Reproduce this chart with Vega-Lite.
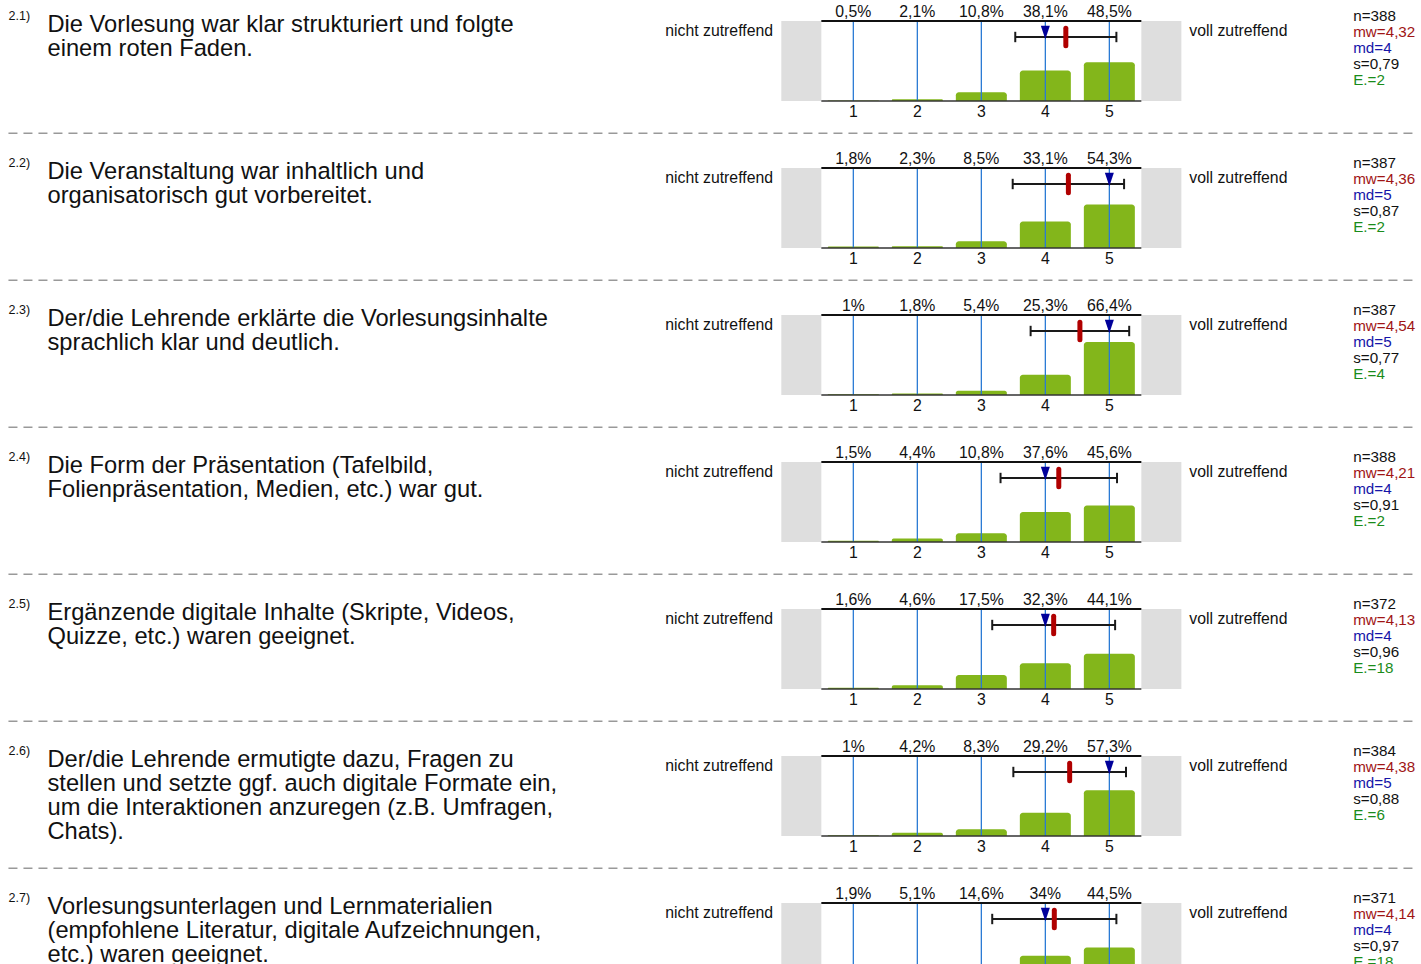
{
  "$schema": "https://vega.github.io/schema/vega-lite/v6.json",
  "padding": 0,
  "spacing": 0,
  "config": {"view": {"stroke": null}, "font": "Liberation Sans", "text": {"font": "Liberation Sans"}, "concat": {"spacing": 0}},
  "datasets": {"all": [
    {"q":"2.1","a":1,"pct":0.5,"lab":"0,5%"},{"q":"2.1","a":2,"pct":2.1,"lab":"2,1%"},{"q":"2.1","a":3,"pct":10.8,"lab":"10,8%"},{"q":"2.1","a":4,"pct":38.1,"lab":"38,1%"},{"q":"2.1","a":5,"pct":48.5,"lab":"48,5%"},
    {"q":"2.2","a":1,"pct":1.8,"lab":"1,8%"},{"q":"2.2","a":2,"pct":2.3,"lab":"2,3%"},{"q":"2.2","a":3,"pct":8.5,"lab":"8,5%"},{"q":"2.2","a":4,"pct":33.1,"lab":"33,1%"},{"q":"2.2","a":5,"pct":54.3,"lab":"54,3%"},
    {"q":"2.3","a":1,"pct":1,"lab":"1%"},{"q":"2.3","a":2,"pct":1.8,"lab":"1,8%"},{"q":"2.3","a":3,"pct":5.4,"lab":"5,4%"},{"q":"2.3","a":4,"pct":25.3,"lab":"25,3%"},{"q":"2.3","a":5,"pct":66.4,"lab":"66,4%"},
    {"q":"2.4","a":1,"pct":1.5,"lab":"1,5%"},{"q":"2.4","a":2,"pct":4.4,"lab":"4,4%"},{"q":"2.4","a":3,"pct":10.8,"lab":"10,8%"},{"q":"2.4","a":4,"pct":37.6,"lab":"37,6%"},{"q":"2.4","a":5,"pct":45.6,"lab":"45,6%"},
    {"q":"2.5","a":1,"pct":1.6,"lab":"1,6%"},{"q":"2.5","a":2,"pct":4.6,"lab":"4,6%"},{"q":"2.5","a":3,"pct":17.5,"lab":"17,5%"},{"q":"2.5","a":4,"pct":32.3,"lab":"32,3%"},{"q":"2.5","a":5,"pct":44.1,"lab":"44,1%"},
    {"q":"2.6","a":1,"pct":1,"lab":"1%"},{"q":"2.6","a":2,"pct":4.2,"lab":"4,2%"},{"q":"2.6","a":3,"pct":8.3,"lab":"8,3%"},{"q":"2.6","a":4,"pct":29.2,"lab":"29,2%"},{"q":"2.6","a":5,"pct":57.3,"lab":"57,3%"},
    {"q":"2.7","a":1,"pct":1.9,"lab":"1,9%"},{"q":"2.7","a":2,"pct":5.1,"lab":"5,1%"},{"q":"2.7","a":3,"pct":14.6,"lab":"14,6%"},{"q":"2.7","a":4,"pct":34,"lab":"34%"},{"q":"2.7","a":5,"pct":44.5,"lab":"44,5%"},
    {"q":"2.1","num":"2.1)","text":"Die Vorlesung war klar strukturiert und folgte\neinem roten Faden.","n":"n=388","mwl":"mw=4,32","mdl":"md=4","sl":"s=0,79","el":"E.=2","mw":4.32,"md":4,"lo":3.53,"hi":5.11},
    {"q":"2.2","num":"2.2)","text":"Die Veranstaltung war inhaltlich und\norganisatorisch gut vorbereitet.","n":"n=387","mwl":"mw=4,36","mdl":"md=5","sl":"s=0,87","el":"E.=2","mw":4.36,"md":5,"lo":3.49,"hi":5.23},
    {"q":"2.3","num":"2.3)","text":"Der/die Lehrende erklärte die Vorlesungsinhalte\nsprachlich klar und deutlich.","n":"n=387","mwl":"mw=4,54","mdl":"md=5","sl":"s=0,77","el":"E.=4","mw":4.54,"md":5,"lo":3.77,"hi":5.31},
    {"q":"2.4","num":"2.4)","text":"Die Form der Präsentation (Tafelbild,\nFolienpräsentation, Medien, etc.) war gut.","n":"n=388","mwl":"mw=4,21","mdl":"md=4","sl":"s=0,91","el":"E.=2","mw":4.21,"md":4,"lo":3.30,"hi":5.12},
    {"q":"2.5","num":"2.5)","text":"Ergänzende digitale Inhalte (Skripte, Videos,\nQuizze, etc.) waren geeignet.","n":"n=372","mwl":"mw=4,13","mdl":"md=4","sl":"s=0,96","el":"E.=18","mw":4.13,"md":4,"lo":3.17,"hi":5.09},
    {"q":"2.6","num":"2.6)","text":"Der/die Lehrende ermutigte dazu, Fragen zu\nstellen und setzte ggf. auch digitale Formate ein,\num die Interaktionen anzuregen (z.B. Umfragen,\nChats).","n":"n=384","mwl":"mw=4,38","mdl":"md=5","sl":"s=0,88","el":"E.=6","mw":4.38,"md":5,"lo":3.50,"hi":5.26},
    {"q":"2.7","num":"2.7)","text":"Vorlesungsunterlagen und Lernmaterialien\n(empfohlene Literatur, digitale Aufzeichnungen,\netc.) waren geeignet.","n":"n=371","mwl":"mw=4,14","mdl":"md=4","sl":"s=0,97","el":"E.=18","mw":4.14,"md":4,"lo":3.17,"hi":5.11}
  ]},
  "vconcat": [
    {
      "data": {"name": "all"},
      "transform": [{"filter": "datum.q != '2.7'"}],
      "facet": {"row": {"field": "q", "type": "nominal", "header": null}},
      "spacing": 0,
      "spec": {
        "width": 1421,
        "height": 146.67,
        "layer": [
          {"transform": [{"filter": "isValid(datum.num)"}],
           "mark": {"type": "rect", "color": "#dedede"},
           "encoding": {
             "x": {"datum": -0.125, "type": "quantitative", "scale": {"domain": [-12.254, 9.791], "nice": false, "zero": false}, "axis": null},
             "x2": {"datum": 0.5},
             "y": {"datum": 0, "type": "quantitative", "scale": {"domain": [-57.09, 126.25], "nice": false, "zero": false}, "axis": null},
             "y2": {"datum": 100}}},
          {"transform": [{"filter": "isValid(datum.num)"}],
           "mark": {"type": "rect", "color": "#dedede"},
           "encoding": {"x": {"datum": 5.5, "type": "quantitative"}, "x2": {"datum": 6.125}, "y": {"datum": 0, "type": "quantitative"}, "y2": {"datum": 100}}},
          {"transform": [{"filter": "isValid(datum.a)"}],
           "mark": {"type": "bar", "color": "#83b61b", "width": 51, "cornerRadiusTopLeft": 3, "cornerRadiusTopRight": 3},
           "encoding": {"x": {"field": "a", "type": "quantitative"}, "y": {"field": "pct", "type": "quantitative"}, "y2": {"datum": 0}}},
          {"transform": [{"filter": "isValid(datum.a)"}],
           "mark": {"type": "rule", "color": "#2a7ad4", "strokeWidth": 1.3},
           "encoding": {"x": {"field": "a", "type": "quantitative"}, "y": {"datum": 0, "type": "quantitative"}, "y2": {"datum": 100}}},
          {"transform": [{"filter": "isValid(datum.num)"}],
           "mark": {"type": "rule", "color": "#111111", "strokeWidth": 1.8},
           "encoding": {"x": {"datum": 0.5, "type": "quantitative"}, "x2": {"datum": 5.5}, "y": {"datum": 100, "type": "quantitative"}}},
          {"transform": [{"filter": "isValid(datum.num)"}],
           "mark": {"type": "rule", "color": "#333333", "strokeWidth": 1.6},
           "encoding": {"x": {"datum": 0.5, "type": "quantitative"}, "x2": {"datum": 5.5}, "y": {"datum": 0, "type": "quantitative"}}},
          {"transform": [{"filter": "isValid(datum.num)"}],
           "mark": {"type": "rule", "color": "#999999", "strokeWidth": 1.5, "strokeDash": [9, 6]},
           "encoding": {"x": {"datum": -12.2, "type": "quantitative"}, "x2": {"datum": 9.78}, "y": {"datum": -40.4, "type": "quantitative"}}},
          {"transform": [{"filter": "isValid(datum.num)"}],
           "mark": {"type": "rule", "color": "#1a1a1a", "strokeWidth": 2},
           "encoding": {"x": {"field": "lo", "type": "quantitative"}, "x2": {"field": "hi"}, "y": {"datum": 80, "type": "quantitative"}}},
          {"transform": [{"filter": "isValid(datum.num)"}],
           "mark": {"type": "rule", "color": "#1a1a1a", "strokeWidth": 2},
           "encoding": {"x": {"field": "lo", "type": "quantitative"}, "y": {"datum": 73.5, "type": "quantitative"}, "y2": {"datum": 86.5}}},
          {"transform": [{"filter": "isValid(datum.num)"}],
           "mark": {"type": "rule", "color": "#1a1a1a", "strokeWidth": 2},
           "encoding": {"x": {"field": "hi", "type": "quantitative"}, "y": {"datum": 73.5, "type": "quantitative"}, "y2": {"datum": 86.5}}},
          {"transform": [{"filter": "isValid(datum.num)"}],
           "mark": {"type": "point", "shape": "M-1,-1.5L1,-1.5L0,1.5Z", "filled": true, "color": "#00009a", "opacity": 1, "size": 81},
           "encoding": {"x": {"field": "md", "type": "quantitative"}, "y": {"datum": 85.6, "type": "quantitative"}}},
          {"transform": [{"filter": "isValid(datum.num)"}],
           "mark": {"type": "rule", "color": "#b00000", "strokeWidth": 5, "strokeCap": "round"},
           "encoding": {"x": {"field": "mw", "type": "quantitative"}, "y": {"datum": 69, "type": "quantitative"}, "y2": {"datum": 91}}},
          {"transform": [{"filter": "isValid(datum.a)"}],
           "mark": {"type": "text", "fontSize": 15.8, "align": "center", "baseline": "alphabetic", "color": "#111111"},
           "encoding": {"x": {"field": "a", "type": "quantitative"}, "y": {"datum": 105.4, "type": "quantitative"}, "text": {"field": "lab"}}},
          {"transform": [{"filter": "isValid(datum.a)"}],
           "mark": {"type": "text", "fontSize": 15.8, "align": "center", "baseline": "alphabetic", "color": "#111111"},
           "encoding": {"x": {"field": "a", "type": "quantitative"}, "y": {"datum": -19.8, "type": "quantitative"}, "text": {"field": "a", "type": "nominal"}}},
          {"transform": [{"filter": "isValid(datum.num)"}],
           "mark": {"type": "text", "fontSize": 12.5, "align": "left", "baseline": "alphabetic", "color": "#111111"},
           "encoding": {"x": {"datum": -12.198, "type": "quantitative"}, "y": {"datum": 101.5, "type": "quantitative"}, "text": {"field": "num"}}},
          {"transform": [{"filter": "isValid(datum.num)"}],
           "mark": {"type": "text", "fontSize": 23.7, "align": "left", "baseline": "alphabetic", "color": "#111111", "lineBreak": "\n", "lineHeight": 24},
           "encoding": {"x": {"datum": -11.59, "type": "quantitative"}, "y": {"datum": 86.6, "type": "quantitative"}, "text": {"field": "text"}}},
          {"transform": [{"filter": "isValid(datum.num)"}],
           "mark": {"type": "text", "fontSize": 15.8, "align": "right", "baseline": "alphabetic", "color": "#111111", "text": "nicht zutreffend"},
           "encoding": {"x": {"datum": -0.255, "type": "quantitative"}, "y": {"datum": 80.8, "type": "quantitative"}}},
          {"transform": [{"filter": "isValid(datum.num)"}],
           "mark": {"type": "text", "fontSize": 15.8, "align": "left", "baseline": "alphabetic", "color": "#111111", "text": "voll zutreffend"},
           "encoding": {"x": {"datum": 6.25, "type": "quantitative"}, "y": {"datum": 80.8, "type": "quantitative"}}},
          {"transform": [{"filter": "isValid(datum.num)"}],
           "mark": {"type": "text", "fontSize": 15.2, "align": "left", "baseline": "alphabetic", "color": "#111111"},
           "encoding": {"x": {"datum": 8.81, "type": "quantitative"}, "y": {"datum": 99.4, "type": "quantitative"}, "text": {"field": "n"}}},
          {"transform": [{"filter": "isValid(datum.num)"}],
           "mark": {"type": "text", "fontSize": 15.2, "align": "left", "baseline": "alphabetic", "color": "#a01515"},
           "encoding": {"x": {"datum": 8.81, "type": "quantitative"}, "y": {"datum": 79.4, "type": "quantitative"}, "text": {"field": "mwl"}}},
          {"transform": [{"filter": "isValid(datum.num)"}],
           "mark": {"type": "text", "fontSize": 15.2, "align": "left", "baseline": "alphabetic", "color": "#1515a8"},
           "encoding": {"x": {"datum": 8.81, "type": "quantitative"}, "y": {"datum": 59.4, "type": "quantitative"}, "text": {"field": "mdl"}}},
          {"transform": [{"filter": "isValid(datum.num)"}],
           "mark": {"type": "text", "fontSize": 15.2, "align": "left", "baseline": "alphabetic", "color": "#111111"},
           "encoding": {"x": {"datum": 8.81, "type": "quantitative"}, "y": {"datum": 39.4, "type": "quantitative"}, "text": {"field": "sl"}}},
          {"transform": [{"filter": "isValid(datum.num)"}],
           "mark": {"type": "text", "fontSize": 15.2, "align": "left", "baseline": "alphabetic", "color": "#1a8c1a"},
           "encoding": {"x": {"datum": 8.81, "type": "quantitative"}, "y": {"datum": 19.4, "type": "quantitative"}, "text": {"field": "el"}}}
        ]
      }
    },
    {
      "data": {"name": "all"},
      "transform": [{"filter": "datum.q == '2.7'"}],
      "width": 1421,
      "height": 84,
      "layer": [
        {"transform": [{"filter": "isValid(datum.num)"}],
         "mark": {"type": "rect", "color": "#dedede", "clip": true},
         "encoding": {
           "x": {"datum": -0.125, "type": "quantitative", "scale": {"domain": [-12.254, 9.791], "nice": false, "zero": false}, "axis": null},
           "x2": {"datum": 0.5},
           "y": {"datum": 0, "type": "quantitative", "scale": {"domain": [21.25, 126.25], "nice": false, "zero": false}, "axis": null},
           "y2": {"datum": 100}}},
        {"transform": [{"filter": "isValid(datum.num)"}],
         "mark": {"type": "rect", "color": "#dedede", "clip": true},
         "encoding": {"x": {"datum": 5.5, "type": "quantitative"}, "x2": {"datum": 6.125}, "y": {"datum": 0, "type": "quantitative"}, "y2": {"datum": 100}}},
        {"transform": [{"filter": "isValid(datum.a)"}],
         "mark": {"type": "bar", "color": "#83b61b", "width": 51, "cornerRadiusTopLeft": 3, "cornerRadiusTopRight": 3, "clip": true},
         "encoding": {"x": {"field": "a", "type": "quantitative"}, "y": {"field": "pct", "type": "quantitative"}, "y2": {"datum": 0}}},
        {"transform": [{"filter": "isValid(datum.a)"}],
         "mark": {"type": "rule", "color": "#2a7ad4", "strokeWidth": 1.3, "clip": true},
         "encoding": {"x": {"field": "a", "type": "quantitative"}, "y": {"datum": 0, "type": "quantitative"}, "y2": {"datum": 100}}},
        {"transform": [{"filter": "isValid(datum.num)"}],
         "mark": {"type": "rule", "color": "#111111", "strokeWidth": 1.8, "clip": true},
         "encoding": {"x": {"datum": 0.5, "type": "quantitative"}, "x2": {"datum": 5.5}, "y": {"datum": 100, "type": "quantitative"}}},
        {"transform": [{"filter": "isValid(datum.num)"}],
         "mark": {"type": "rule", "color": "#1a1a1a", "strokeWidth": 2, "clip": true},
         "encoding": {"x": {"field": "lo", "type": "quantitative"}, "x2": {"field": "hi"}, "y": {"datum": 80, "type": "quantitative"}}},
        {"transform": [{"filter": "isValid(datum.num)"}],
         "mark": {"type": "rule", "color": "#1a1a1a", "strokeWidth": 2, "clip": true},
         "encoding": {"x": {"field": "lo", "type": "quantitative"}, "y": {"datum": 73.5, "type": "quantitative"}, "y2": {"datum": 86.5}}},
        {"transform": [{"filter": "isValid(datum.num)"}],
         "mark": {"type": "rule", "color": "#1a1a1a", "strokeWidth": 2, "clip": true},
         "encoding": {"x": {"field": "hi", "type": "quantitative"}, "y": {"datum": 73.5, "type": "quantitative"}, "y2": {"datum": 86.5}}},
        {"transform": [{"filter": "isValid(datum.num)"}],
         "mark": {"type": "point", "shape": "M-1,-1.5L1,-1.5L0,1.5Z", "filled": true, "color": "#00009a", "opacity": 1, "size": 81, "clip": true},
         "encoding": {"x": {"field": "md", "type": "quantitative"}, "y": {"datum": 85.6, "type": "quantitative"}}},
        {"transform": [{"filter": "isValid(datum.num)"}],
         "mark": {"type": "rule", "color": "#b00000", "strokeWidth": 5, "strokeCap": "round", "clip": true},
         "encoding": {"x": {"field": "mw", "type": "quantitative"}, "y": {"datum": 69, "type": "quantitative"}, "y2": {"datum": 91}}},
        {"transform": [{"filter": "isValid(datum.a)"}],
         "mark": {"type": "text", "fontSize": 15.8, "align": "center", "baseline": "alphabetic", "color": "#111111", "clip": true},
         "encoding": {"x": {"field": "a", "type": "quantitative"}, "y": {"datum": 105.4, "type": "quantitative"}, "text": {"field": "lab"}}},
        {"transform": [{"filter": "isValid(datum.num)"}],
         "mark": {"type": "text", "fontSize": 12.5, "align": "left", "baseline": "alphabetic", "color": "#111111", "clip": true},
         "encoding": {"x": {"datum": -12.198, "type": "quantitative"}, "y": {"datum": 101.5, "type": "quantitative"}, "text": {"field": "num"}}},
        {"transform": [{"filter": "isValid(datum.num)"}],
         "mark": {"type": "text", "fontSize": 23.7, "align": "left", "baseline": "alphabetic", "color": "#111111", "lineBreak": "\n", "lineHeight": 24, "clip": true},
         "encoding": {"x": {"datum": -11.59, "type": "quantitative"}, "y": {"datum": 86.6, "type": "quantitative"}, "text": {"field": "text"}}},
        {"transform": [{"filter": "isValid(datum.num)"}],
         "mark": {"type": "text", "fontSize": 15.8, "align": "right", "baseline": "alphabetic", "color": "#111111", "text": "nicht zutreffend", "clip": true},
         "encoding": {"x": {"datum": -0.255, "type": "quantitative"}, "y": {"datum": 80.8, "type": "quantitative"}}},
        {"transform": [{"filter": "isValid(datum.num)"}],
         "mark": {"type": "text", "fontSize": 15.8, "align": "left", "baseline": "alphabetic", "color": "#111111", "text": "voll zutreffend", "clip": true},
         "encoding": {"x": {"datum": 6.25, "type": "quantitative"}, "y": {"datum": 80.8, "type": "quantitative"}}},
        {"transform": [{"filter": "isValid(datum.num)"}],
         "mark": {"type": "text", "fontSize": 15.2, "align": "left", "baseline": "alphabetic", "color": "#111111", "clip": true},
         "encoding": {"x": {"datum": 8.81, "type": "quantitative"}, "y": {"datum": 99.4, "type": "quantitative"}, "text": {"field": "n"}}},
        {"transform": [{"filter": "isValid(datum.num)"}],
         "mark": {"type": "text", "fontSize": 15.2, "align": "left", "baseline": "alphabetic", "color": "#a01515", "clip": true},
         "encoding": {"x": {"datum": 8.81, "type": "quantitative"}, "y": {"datum": 79.4, "type": "quantitative"}, "text": {"field": "mwl"}}},
        {"transform": [{"filter": "isValid(datum.num)"}],
         "mark": {"type": "text", "fontSize": 15.2, "align": "left", "baseline": "alphabetic", "color": "#1515a8", "clip": true},
         "encoding": {"x": {"datum": 8.81, "type": "quantitative"}, "y": {"datum": 59.4, "type": "quantitative"}, "text": {"field": "mdl"}}},
        {"transform": [{"filter": "isValid(datum.num)"}],
         "mark": {"type": "text", "fontSize": 15.2, "align": "left", "baseline": "alphabetic", "color": "#111111", "clip": true},
         "encoding": {"x": {"datum": 8.81, "type": "quantitative"}, "y": {"datum": 39.4, "type": "quantitative"}, "text": {"field": "sl"}}},
        {"transform": [{"filter": "isValid(datum.num)"}],
         "mark": {"type": "text", "fontSize": 15.2, "align": "left", "baseline": "alphabetic", "color": "#1a8c1a", "clip": true},
         "encoding": {"x": {"datum": 8.81, "type": "quantitative"}, "y": {"datum": 19.4, "type": "quantitative"}, "text": {"field": "el"}}}
      ]
    }
  ]
}
